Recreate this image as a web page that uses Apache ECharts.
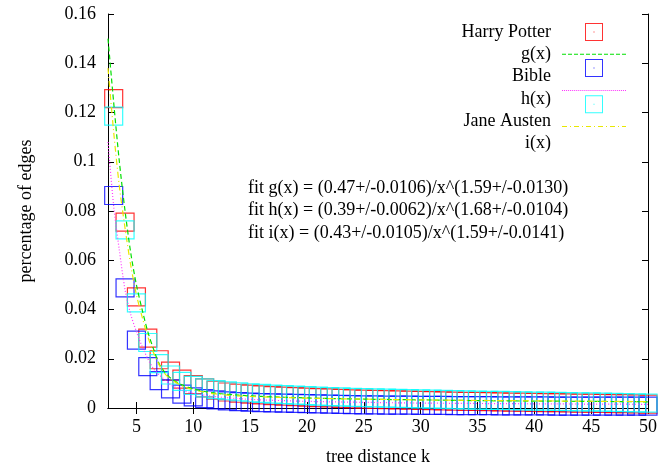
<!DOCTYPE html>
<html>
<head>
<meta charset="utf-8">
<script src="https://cdn.jsdelivr.net/npm/echarts@6/dist/echarts.min.js"></script>
<style>
  html, body { margin: 0; padding: 0; background: #fff; }
  #chart { width: 660px; height: 471px; }
</style>
</head>
<body>
<div id="chart"></div>
<script>
// tick positions / labels
const xTicks = [5, 10, 15, 20, 25, 30, 35, 40, 45, 50];
const xTickLabels = ['5', '10', '15', '20', '25', '30', '35', '40', '45', '50'];
const yTicks = [0, 0.02, 0.04, 0.06, 0.08, 0.1, 0.12, 0.14, 0.16];
const yTickLabels = ['0', '0.02', '0.04', '0.06', '0.08', '0.1', '0.12', '0.14', '0.16'];

// tree distance k for every measured point
const distances = [3, 4, 5, 6, 7, 8, 9, 10, 11, 12, 13, 14, 15, 16, 17, 18, 19, 20, 21, 22, 23, 24, 25, 26,
  27, 28, 29, 30, 31, 32, 33, 34, 35, 36, 37, 38, 39, 40, 41, 42, 43, 44, 45, 46, 47, 48, 49, 50];

const harryPotter = [0.1256, 0.0755, 0.0451, 0.0284, 0.0196, 0.0150, 0.0117, 0.0095, 0.0082, 0.0072, 0.0065, 0.0060,
  0.0056, 0.0053, 0.0050, 0.0048, 0.0046, 0.0044, 0.0042, 0.0041, 0.0039, 0.0037, 0.0036, 0.0035,
  0.0034, 0.0033, 0.0032, 0.0031, 0.0030, 0.0029, 0.0028, 0.0027, 0.0027, 0.0026, 0.0025, 0.0024,
  0.0024, 0.0023, 0.0022, 0.0022, 0.0021, 0.0020, 0.0020, 0.0019, 0.0018, 0.0018, 0.0017, 0.0016];

const bible = [0.0863, 0.0488, 0.0276, 0.0168, 0.0111, 0.0078, 0.0056, 0.0045, 0.0038, 0.0033, 0.0029, 0.0026,
  0.0024, 0.0022, 0.0021, 0.0020, 0.0019, 0.0018, 0.0017, 0.0016, 0.0015, 0.0014, 0.0013, 0.0013,
  0.0012, 0.0012, 0.0012, 0.0011, 0.0011, 0.0011, 0.0010, 0.0010, 0.0010, 0.0010, 0.0009, 0.0009,
  0.0009, 0.0009, 0.0009, 0.0008, 0.0008, 0.0008, 0.0008, 0.0008, 0.0008, 0.0008, 0.0008, 0.0008];

const janeAusten = [0.1185, 0.0723, 0.0427, 0.0266, 0.0180, 0.0134, 0.0108, 0.0092, 0.0082, 0.0075, 0.0070, 0.0066,
  0.0062, 0.0059, 0.0056, 0.0054, 0.0052, 0.0050, 0.0048, 0.0046, 0.0045, 0.0043, 0.0042, 0.0041,
  0.0040, 0.0039, 0.0038, 0.0037, 0.0036, 0.0035, 0.0034, 0.0033, 0.0032, 0.0031, 0.0031, 0.0030,
  0.0029, 0.0028, 0.0028, 0.0027, 0.0026, 0.0025, 0.0025, 0.0024, 0.0023, 0.0022, 0.0021, 0.0020];

// fitted curves
const gX = [2.5, 3, 3.5, 4, 4.5, 5, 5.5, 6, 6.5, 7, 7.5, 8, 9, 10, 11, 12, 14, 16, 20, 25, 30, 35, 40, 45, 50];
const gY = [0.150, 0.124, 0.100, 0.080, 0.063, 0.050, 0.040, 0.031, 0.024, 0.018, 0.0145, 0.0122, 0.0094, 0.0078,
  0.0067, 0.0060, 0.0052, 0.0047, 0.0041, 0.0036, 0.0033, 0.0030, 0.0028, 0.0027, 0.0025];

const hX = [2.5, 3, 3.5, 4, 4.5, 5, 5.5, 6, 6.5, 7, 8, 9, 10, 11, 12, 14, 16, 20, 25, 30, 40, 50];
const hY = [0.108, 0.082, 0.064, 0.048, 0.038, 0.031, 0.025, 0.020, 0.016, 0.0135, 0.0095, 0.0072, 0.0060, 0.0052,
  0.0046, 0.0038, 0.0033, 0.0027, 0.0023, 0.0020, 0.0017, 0.0015];

const iX = [2.5, 3, 3.5, 4, 4.5, 5, 5.5, 6, 6.5, 7, 7.5, 8, 9, 10, 11, 12, 14, 16, 20, 25, 30, 40, 50];
const iY = [0.138, 0.112, 0.090, 0.073, 0.058, 0.046, 0.037, 0.029, 0.0225, 0.0175, 0.014, 0.0118, 0.0090, 0.0074,
  0.0064, 0.0057, 0.0049, 0.0045, 0.0040, 0.0036, 0.0033, 0.0029, 0.0026];

const legendNames = ['Harry Potter', 'g(x)', 'Bible', 'h(x)', 'Jane Austen', 'i(x)'];
const fitLabels = [
  'fit g(x) = (0.47+/-0.0106)/x^(1.59+/-0.0130)',
  'fit h(x) = (0.39+/-0.0062)/x^(1.68+/-0.0104)',
  'fit i(x) = (0.43+/-0.0105)/x^(1.59+/-0.0141)'
];

const FONT = 'Liberation Serif';
const CSS_FONT = '18px "Liberation Serif"';
const serif = { fontFamily: FONT, fontSize: 18, color: '#000' };
const pairs = (xs, ys) => xs.map((x, i) => [x, ys[i]]);

// legend icons as paths: an outlined square with a centre dot, and broken lines
const squareIcon = 'path://M0,0H18V18H0Z M1,1V17H17V1Z M8.5,8.5H9.5V9.5H8.5Z';
function brokenLineIcon(pattern, width) {
  let d = '', x = 0, k = 0;
  while (x < width) {
    const len = Math.min(pattern[k % pattern.length], width - x);
    if (k % 2 === 0) d += 'M' + x + ',0H' + (x + len) + 'V1H' + x + 'Z';
    x += pattern[k % pattern.length];
    k++;
  }
  return 'path://' + d;
}

const chart = echarts.init(document.getElementById('chart'));

function squares(name, values, color) {
  return {
    name: name,
    type: 'scatter',
    symbol: 'rect',
    symbolSize: 18,
    data: pairs(distances, values),
    itemStyle: { color: 'rgba(0,0,0,0)', borderColor: color, borderWidth: 1.2 },
    clip: false
  };
}

function fitLine(name, xs, ys, color, dash) {
  return {
    name: name,
    type: 'line',
    data: pairs(xs, ys),
    smooth: 0.3,
    symbol: 'none',
    lineStyle: { color: color, width: 1.2, type: dash },
    itemStyle: { color: color }
  };
}

const colors = { hp: '#ff0000', g: '#00e000', bible: '#0000ff', h: '#ff33ff', ja: '#00ffff', i: '#e8e800' };
const icons = [squareIcon, brokenLineIcon([4, 2], 64), squareIcon, brokenLineIcon([1, 1], 64),
  squareIcon, brokenLineIcon([5, 3, 1, 3], 64)];
const iconColors = [colors.hp, colors.g, colors.bible, colors.h, colors.ja, colors.i];
const blackLine = { show: true, lineStyle: { color: '#000', width: 1 } };
const tick = { show: true, inside: true, length: 6, lineStyle: { color: '#000' } };

chart.setOption({
  animation: false,
  backgroundColor: '#fff',
  textStyle: serif,
  title: fitLabels.map((t, i) => ({
    text: t,
    left: 248,
    top: 179 + i * 22.5,
    padding: 0,
    textStyle: { fontFamily: FONT, fontSize: 18, fontWeight: 'normal', color: '#000' }
  })),
  grid: { left: 108, right: 12, top: 14, bottom: 61 },
  // icons only; the names are written next to them below
  legend: {
    orient: 'vertical',
    align: 'right',
    right: 34,
    top: 23,
    padding: 0,
    itemWidth: 64,
    itemHeight: 18,
    itemGap: 4.3,
    symbolKeepAspect: true,
    formatter: () => '',
    data: legendNames.map((n, i) => ({ name: n, icon: icons[i], itemStyle: { color: iconColors[i], borderWidth: 0 } })),
    selectedMode: false
  },
  xAxis: [
    {
      type: 'value', min: 2.5, max: 50, position: 'bottom',
      name: 'tree distance k', nameLocation: 'middle', nameGap: 40,
      nameTextStyle: serif,
      axisLine: blackLine,
      splitLine: { show: false },
      axisTick: Object.assign({ customValues: xTicks }, tick),
      axisLabel: { show: false }
    },
    {
      type: 'value', min: 2.5, max: 50, position: 'top',
      axisLine: blackLine,
      splitLine: { show: false },
      axisTick: Object.assign({ customValues: xTicks }, tick),
      axisLabel: { show: false }
    }
  ],
  yAxis: [
    {
      type: 'value', min: 0, max: 0.16, interval: 0.02, position: 'left',
      name: 'percentage of edges', nameLocation: 'middle', nameGap: 73,
      nameTextStyle: serif,
      axisLine: blackLine,
      splitLine: { show: false },
      axisTick: tick,
      axisLabel: { show: false }
    },
    {
      type: 'value', min: 0, max: 0.16, interval: 0.02, position: 'right',
      axisLine: blackLine,
      splitLine: { show: false },
      axisTick: tick,
      axisLabel: { show: false }
    }
  ],
  series: [
    squares('Harry Potter', harryPotter, colors.hp),
    fitLine('g(x)', gX, gY, colors.g, [5, 3]),
    squares('Bible', bible, colors.bible),
    fitLine('h(x)', hX, hY, colors.h, [1, 2]),
    squares('Jane Austen', janeAusten, colors.ja),
    fitLine('i(x)', iX, iY, colors.i, [6, 3, 1, 3])
  ]
});

// tick labels and legend names, placed through the chart's own axes
const labelText = [];
const y0 = chart.convertToPixel({ yAxisIndex: 0 }, 0);
xTicks.forEach((v, i) => {
  labelText.push({
    type: 'text', silent: true,
    x: chart.convertToPixel({ xAxisIndex: 0 }, v), y: y0 + 10,
    style: { text: xTickLabels[i], font: CSS_FONT, fill: '#000', align: 'center', verticalAlign: 'top' }
  });
});
yTicks.forEach((v, i) => {
  labelText.push({
    type: 'text', silent: true,
    x: 108 - 12, y: chart.convertToPixel({ yAxisIndex: 0 }, v),
    style: { text: yTickLabels[i], font: CSS_FONT, fill: '#000', align: 'right', verticalAlign: 'middle' }
  });
});
legendNames.forEach((n, i) => {
  labelText.push({
    type: 'text', silent: true,
    x: 551, y: 32 + i * 22.3,
    style: { text: n, font: CSS_FONT, fill: '#000', align: 'right', verticalAlign: 'middle' }
  });
});
chart.setOption({ graphic: labelText });
</script>
</body>
</html>
